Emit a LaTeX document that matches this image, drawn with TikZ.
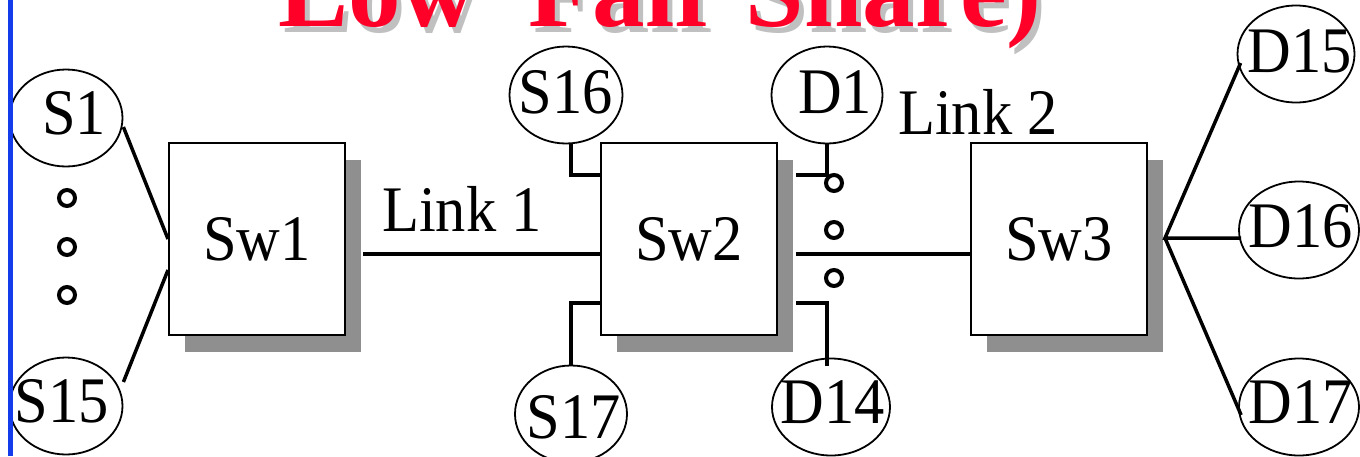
\documentclass[tikz,border=0pt]{standalone}
\usepackage{fontspec}
\setmainfont{Liberation Serif}
\newfontfamily\diagfont[FakeStretch=0.93]{Liberation Serif}
\usetikzlibrary{calc,shapes.geometric,shadows}
\definecolor{titlered}{RGB}{255,0,40}
\definecolor{titleshadow}{RGB}{192,192,192}
\definecolor{boxshadow}{RGB}{143,143,143}
\definecolor{edgeblue}{RGB}{20,60,235}
\begin{document}
\begin{tikzpicture}[x=1pt,y=-1pt,
  host/.style={ellipse,draw,line width=1.8pt,inner sep=0pt,minimum width=113pt,minimum height=97pt},
  lbl/.style={font=\diagfont\fontsize{65}{65}\selectfont,inner sep=0pt},
  switchbox/.style={rectangle,draw,line width=2pt,fill=white,minimum width=176pt,minimum height=192pt,
     inner sep=0pt,font=\diagfont\fontsize{65}{65}\selectfont,
     drop shadow={fill=boxshadow,opacity=1,shadow xshift=16pt,shadow yshift=-17pt}},
  wire/.style={line width=3.5pt},
  dotc/.style={circle,draw,line width=4pt,minimum size=16pt,inner sep=0pt},
  titletext/.style={anchor=base west,inner sep=0pt,font=\fontsize{105}{105}\bfseries\selectfont}]
\useasboundingbox (0,0) rectangle (1360,456);
\clip (0,0) rectangle (1360,456);
% title (cut off at the top)
\node[titletext,text=titleshadow] (titleshadow) at (283,32) {Low\hspace{52pt}Fair\hspace{25pt}Share)};
\node[titletext,text=titlered] (title) at (278,26) {Low\hspace{52pt}Fair\hspace{25pt}Share)};
% switches
\node[switchbox] (Sw1) at (257,239) {Sw1};
\node[switchbox] (Sw2) at (689,239) {Sw2};
\node[switchbox] (Sw3) at (1059,239) {Sw3};
% hosts
\node[host,label={[lbl,xshift=8pt,yshift=5pt]center:S1}] (S1) at (66,118) {};
\node[host,label={[lbl,xshift=-4pt,yshift=5pt]center:S15}] (S15) at (66,406) {};
\node[host,label={[lbl,yshift=3pt]center:S16}] (S16) at (566,95) {};
\node[host,minimum width=112pt,label={[lbl,xshift=3pt,yshift=-3pt]center:S17}] (S17) at (571,414) {};
\node[host,minimum width=111pt,label={[lbl,xshift=8pt,yshift=3pt]center:D1}] (D1) at (827,95) {};
\node[host,minimum width=118pt,label={[lbl,xshift=2pt,yshift=5pt]center:D14}] (D14) at (831,407) {};
\node[host,minimum width=117pt,label={[lbl,xshift=4pt,yshift=3pt]center:D15}] (D15) at (1296,54) {};
\node[host,minimum width=120pt,label={[lbl,xshift=2pt,yshift=4pt]center:D16}] (D16) at (1299,230) {};
\node[host,minimum width=120pt,label={[lbl,xshift=2pt,yshift=5pt]center:D17}] (D17) at (1299,407) {};
% ellipsis dots
\node[dotc] (ldot1) at (67,198) {};
\node[dotc] (ldot2) at (67,247) {};
\node[dotc] (ldot3) at (67,295) {};
\node[dotc] (rdot1) at (834,183) {};
\node[dotc] (rdot2) at (834,230) {};
\node[dotc] (rdot3) at (834,278) {};
% link labels
\node[lbl] (link1) at (462,209) {Link 1};
\node[lbl] (link2) at (978,112) {Link 2};
% wires
\draw[wire] ($(S1.east)+(0,9)$) -- (Sw1.west);
\draw[wire] ($(S15.east)+(0,-24)$) -- ($(Sw1.west)+(0,31)$);
\draw[wire] ($(Sw1.east)+(17,15)$) -- ($(Sw2.west)+(0,15)$);
\draw[wire] ($(S16.south)+(5,0)$) |- ($(Sw2.west)+(0,-64)$);
\draw[wire] ($(Sw2.west)+(0,64)$) -| (S17.north);
\draw[wire] (D1.south) |- ($(Sw2.east)+(18,-64)$);
\draw[wire] ($(Sw2.east)+(18,64)$) -| ($(D14.north)+(-4,8)$);
\draw[wire] ($(Sw2.east)+(18,15)$) -- ($(Sw3.west)+(0,15)$);
\coordinate (hub) at ($(Sw3.east)+(17,-1)$);
\draw[wire] ($(D15.west)+(4,9)$) -- (hub) -- ($(D16.west)+(3,8)$);
\draw[wire] (hub) -- ($(D17.west)+(3,8)$);
% left blue rule
\draw[edgeblue,line width=4.5pt] (10.5,0) -- (10.5,456);
\end{tikzpicture}
\end{document}
